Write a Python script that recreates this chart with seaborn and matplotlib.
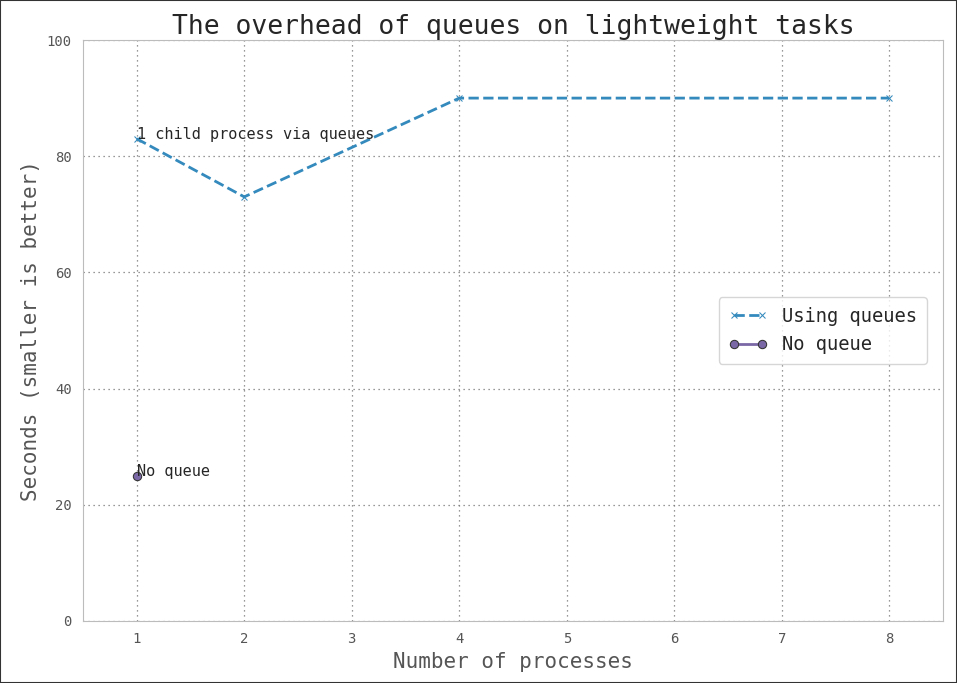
# Queue overhead on lightweight tasks

import pandas as pd
import numpy as np
import matplotlib.pyplot as plt
import seaborn as sns

procs_queue = [1, 2, 4, 8]
secs_queue = [83, 73, 90, 90]

procs_noqueue = [1]
secs_noqueue = [25]

xticks = [1, 2, 3, 4, 5, 6, 7, 8]
yticks = [0, 20, 40, 60, 80, 100]

df_q = pd.DataFrame({'procs': procs_queue, 'secs': secs_queue})
df_n = pd.DataFrame({'procs': procs_noqueue, 'secs': secs_noqueue})

sns.set_style("white")
plt.rcParams['font.family'] = ['DejaVu Sans Mono', 'DejaVu Sans']

fig = plt.figure(figsize=(9.57, 6.83), dpi=100)
ax = fig.add_axes([83/957, 62/683, 860/957, 581/683])

sns.lineplot(
    data=df_q, x='procs', y='secs', ax=ax,
    color='#348ABD', linestyle='--', linewidth=2,
    marker='x', markersize=5, markeredgecolor='#348ABD',
    label='Using queues'
)
sns.lineplot(
    data=df_n, x='procs', y='secs', ax=ax,
    color='#7A68A6', linestyle='-', linewidth=2,
    marker='o', markersize=6, markeredgecolor='#333333',
    label='No queue'
)

ax.text(procs_queue[0], secs_queue[0], '1 child process via queues', fontsize=11, va='baseline')
ax.text(procs_noqueue[0], secs_noqueue[0], 'No queue', fontsize=11, va='baseline')

ax.set_xlim(0.5, 8.5)
ax.set_ylim(0, 100)
ax.set_xticks(xticks)
ax.set_yticks(yticks)
ax.tick_params(axis='both', labelsize=10, labelcolor='#555555', length=0, pad=8)

ax.grid(True, linestyle=(0, (1, 3)), color='#777777', linewidth=0.9)
for s in ax.spines.values():
    s.set_color('#bcbcbc')

ax.set_title("The overhead of queues on lightweight tasks", fontsize=19, pad=4)
ax.set_xlabel("Number of processes", fontsize=15, color='#555555')
ax.set_ylabel("Seconds (smaller is better)", fontsize=15, color='#555555')

ax.legend(loc='center right', fontsize=13.5, frameon=True, fancybox=True,
          numpoints=2, handlelength=2.1, borderpad=0.5,
          bbox_to_anchor=(0.992, 0.5))

fig.patches.append(plt.Rectangle((0, 0), 1, 1, transform=fig.transFigure,
                                 fill=False, edgecolor='#333333', linewidth=1.5))

plt.savefig('out.png', dpi=100)
